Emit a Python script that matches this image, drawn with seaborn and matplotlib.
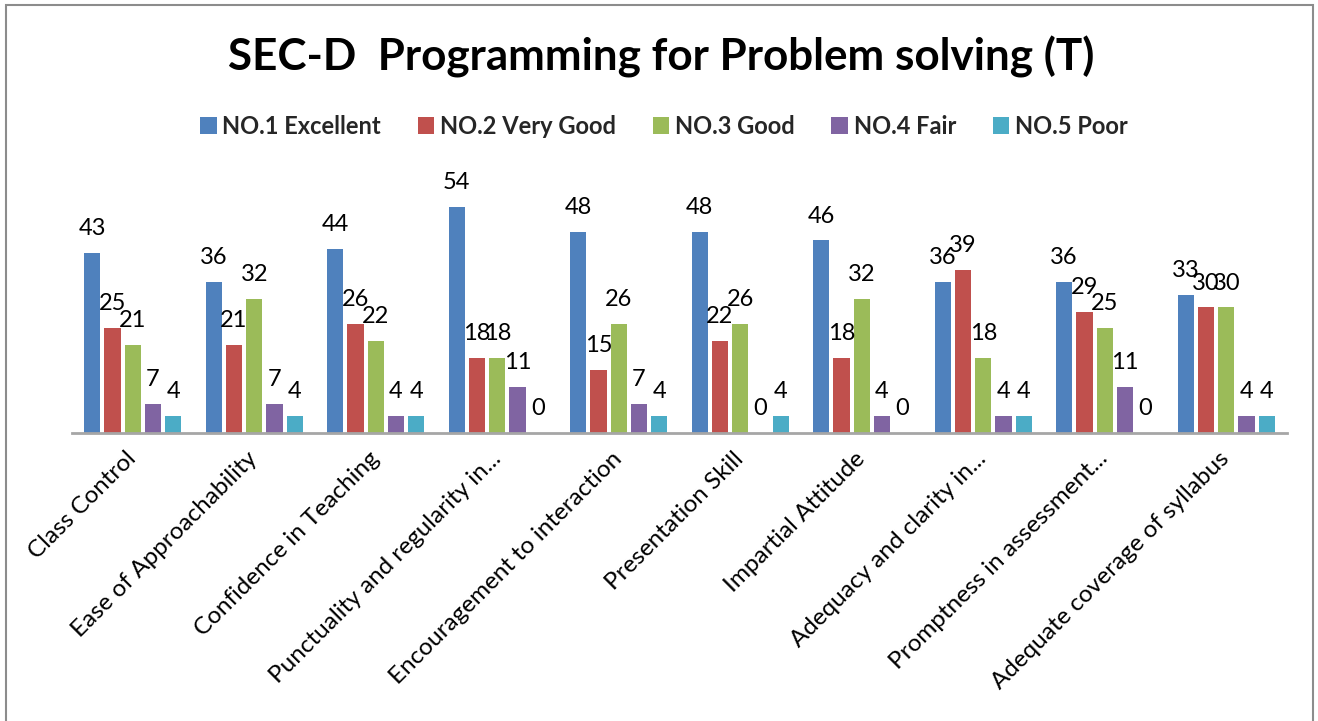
import matplotlib
matplotlib.use("Agg")
import matplotlib.pyplot as plt
from matplotlib.patches import Rectangle
import seaborn as sns
import pandas as pd

categories = [
    "Class Control",
    "Ease of Approachability",
    "Confidence in Teaching",
    "Punctuality and regularity in...",
    "Encouragement to interaction",
    "Presentation Skill",
    "Impartial Attitude",
    "Adequacy and clarity in...",
    "Promptness in assessment...",
    "Adequate coverage of syllabus",
]
series_names = ["NO.1 Excellent", "NO.2 Very Good", "NO.3 Good", "NO.4 Fair", "NO.5 Poor"]
excellent = [43, 36, 44, 54, 48, 48, 46, 36, 36, 33]
very_good = [25, 21, 26, 18, 15, 22, 18, 39, 29, 30]
good = [21, 32, 22, 18, 26, 26, 32, 18, 25, 30]
fair = [7, 7, 4, 11, 7, 0, 4, 4, 11, 4]
poor = [4, 4, 4, 0, 4, 4, 0, 4, 0, 4]
colors = ["#4F81BD", "#C0504D", "#9BBB59", "#8064A2", "#4BACC6"]
title = "SEC-D  Programming for Problem solving (T)"

series_values = [excellent, very_good, good, fair, poor]
rows = []
for name, vals in zip(series_names, series_values):
    for cat, v in zip(categories, vals):
        rows.append({"Category": cat, "Rating": name, "Value": v})
df = pd.DataFrame(rows)

sns.set_theme(style="white")
plt.rcParams["font.family"] = ["Lato", "DejaVu Sans"]

W, H = 1318, 721
fig = plt.figure(figsize=(W / 100, H / 100), dpi=100)
ax = fig.add_axes([72 / W, 1 - 433 / H, (1287 - 72) / W, (433 - 181.9) / H])

sns.barplot(data=df, x="Category", y="Value", hue="Rating", order=categories,
            hue_order=series_names, palette=colors, width=0.835, gap=0.2,
            errorbar=None, saturation=1, ax=ax, linewidth=0)

for cont in ax.containers:
    ax.bar_label(cont, labels=[f"{int(b.get_height())}" for b in cont],
                 padding=10, fontsize=17, color="black")

ax.set_ylim(0, 60)
ax.set_xlim(-0.5, len(categories) - 0.5)
ax.set_yticks([])
ax.set_xlabel("")
ax.set_ylabel("")
for s in ["left", "top", "right"]:
    ax.spines[s].set_visible(False)
ax.spines["bottom"].set_color("#A6A6A6")
ax.spines["bottom"].set_linewidth(2)
ax.tick_params(axis="x", length=0, pad=16)
ax.set_xticks(range(len(categories)))
ax.set_xticklabels(categories, rotation=45, ha="right", va="center",
                   rotation_mode="anchor", fontsize=17.5, color="black")

handles, labels = ax.get_legend_handles_labels()
if ax.legend_ is not None:
    ax.legend_.remove()
fig.legend(handles, labels, loc="center", bbox_to_anchor=(664 / W, 1 - 126 / H),
           ncol=5, frameon=False, prop={"weight": "bold", "size": 17},
           handlelength=0.7, handleheight=0.7, handletextpad=0.25,
           columnspacing=1.55)

fig.text(661 / W, 1 - 57 / H, title, ha="center", va="center",
         fontsize=31.7, fontweight="bold", color="black")

fig.patches.append(Rectangle((6 / W, -0.1), (1313 - 6) / W, 1.1 - 5 / H,
                             transform=fig.transFigure, fill=False,
                             edgecolor="#8C8C8C", linewidth=1.5, clip_on=False))

fig.savefig("out.png", dpi=100)
